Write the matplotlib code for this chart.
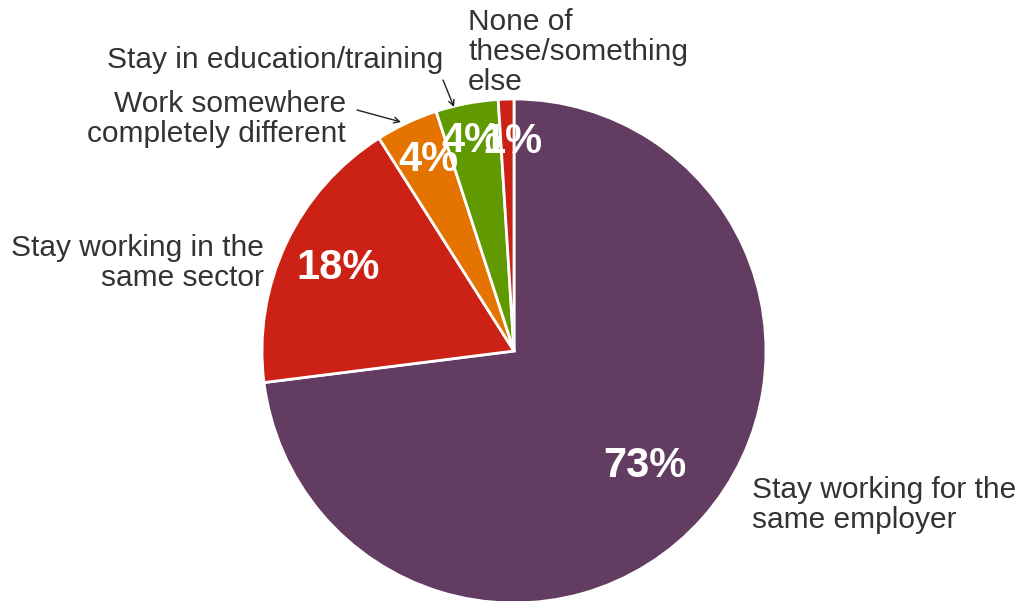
import matplotlib
matplotlib.use("Agg")
import matplotlib.pyplot as plt
import numpy as np

categories = ["Stay working for the\nsame employer",
              "Stay working in the\nsame sector",
              "Work somewhere\ncompletely different",
              "Stay in education/training",
              "None of\nthese/something\nelse"]
values = [73, 18, 4, 4, 1]
pct_labels = ["73%", "18%", "4%", "4%", "1%"]
colors = ["#633D61", "#CC2216", "#E57300", "#609A00", "#CC2216"]

plt.rcParams['font.family'] = ['Liberation Sans', 'DejaVu Sans']

W, H = 1021, 601
fig = plt.figure(figsize=(W / 100, H / 100), dpi=100)
ax = fig.add_axes([0, 0, 1, 1])

cx, cy, R = 514, 351, 252  # pixel center and radius

wedges, _ = ax.pie(values, colors=colors, startangle=90, counterclock=False,
                   radius=1.0, center=(0, 0),
                   wedgeprops=dict(edgecolor="white", linewidth=2))

ax.set_xlim(-cx / R, (W - cx) / R)
ax.set_ylim(-(H - cy) / R, cy / R)
ax.set_aspect('auto')
ax.axis('off')

# percentage labels
pct_dist = [0.69, 0.77, 0.83, 0.85, 0.83]
pct_ang_off = [0, 0, -1, 0.6, -1.5]
for w, lab, d, off in zip(wedges, pct_labels, pct_dist, pct_ang_off):
    ang = np.deg2rad((w.theta1 + w.theta2) / 2 + off)
    ax.text(d * np.cos(ang), d * np.sin(ang), lab, ha='center', va='center',
            color='white', fontsize=30, fontweight='bold')

def px(x, y):
    return ((x - cx) / R, (cy - y) / R)

tc = "#333333"
fs = 21.5
ls = 1.07
ax.text(*px(752, 505), categories[0], ha='left', va='center', color=tc,
        fontsize=fs, linespacing=ls)
ax.text(*px(264, 263), categories[1], ha='right', va='center', color=tc,
        fontsize=fs, linespacing=ls, multialignment='right')
ax.text(*px(346, 119), categories[2], ha='right', va='center', color=tc,
        fontsize=fs, linespacing=ls, multialignment='right')
ax.text(*px(443, 60), categories[3], ha='right', va='center', color=tc,
        fontsize=fs, linespacing=ls)
ax.text(*px(468, 52), categories[4], ha='left', va='center', color=tc,
        fontsize=fs, linespacing=ls)

ax.annotate("", xy=px(401, 122), xytext=px(357, 110),
            arrowprops=dict(arrowstyle="->", color="#222222", lw=1,
                            shrinkA=0, shrinkB=0))
ax.annotate("", xy=px(454, 107), xytext=px(443, 80),
            arrowprops=dict(arrowstyle="->", color="#222222", lw=1,
                            shrinkA=0, shrinkB=0))

fig.savefig("out.png", dpi=100)
